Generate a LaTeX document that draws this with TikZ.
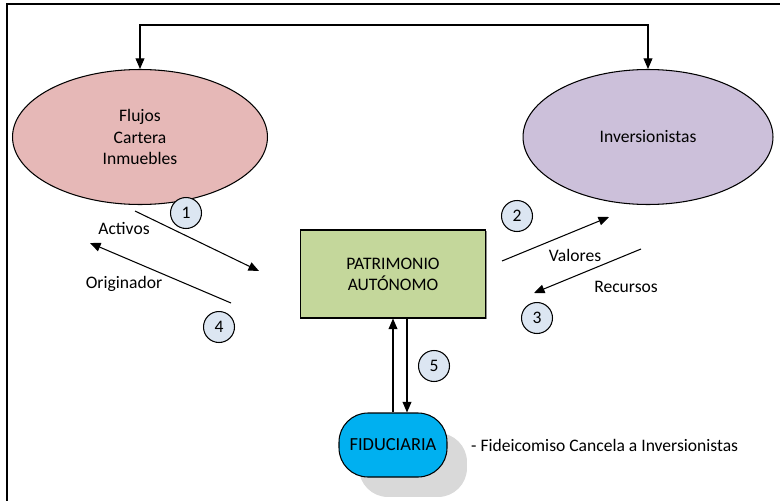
\documentclass[tikz,border=0pt]{standalone}
\usepackage{fontspec}
\setmainfont{Carlito}
\usetikzlibrary{arrows, arrows.meta}
\usetikzlibrary{shapes.geometric}
\usetikzlibrary{shadows}

\definecolor{rosa}{HTML}{E6B8B7}
\definecolor{lila}{HTML}{CCC0DA}
\definecolor{verde}{HTML}{C4D79B}
\definecolor{azul}{HTML}{00B0F0}
\definecolor{paso}{HTML}{DCE6F2}

\begin{document}
\begin{tikzpicture}[x=0.02cm, y=-0.02cm, font=\fontsize{10}{12}\selectfont,
    flecha/.style={draw, line width=0.6pt, -{Triangle[length=6pt, width=5pt]}},
    elipse/.style={ellipse, draw, line width=0.6pt, align=center, inner sep=0pt},
    numero/.style={circle, draw, fill=paso, line width=0.6pt, inner sep=0pt, minimum size=0.62cm}]
      \useasboundingbox (0,0) rectangle (780,500);
      \draw[line width=1.7pt] (7,530) -- (7,4) -- (810,4);

      \node[elipse, fill=rosa, minimum width=5.1cm, minimum height=2.7cm] (flujos) at (140,137) {Flujos\\Cartera\\Inmuebles};
      \node[elipse, fill=lila, minimum width=5.0cm, minimum height=2.7cm] (inv) at (648,137) {Inversionistas};
      \node[draw, fill=verde, line width=0.6pt, align=center, minimum width=3.7cm, minimum height=1.76cm,
            drop shadow={shadow xshift=0.8pt, shadow yshift=-0.8pt, fill=black!45, opacity=1}] (pa) at (393,274) {PATRIMONIO\\AUTÓNOMO};
      \node[draw, fill=azul, line width=0.6pt, minimum width=2.16cm, minimum height=1.28cm, rounded corners=0.58cm,
            drop shadow={shadow xshift=0.4cm, shadow yshift=-0.4cm, fill=black!15, opacity=1}] (fid) at (393,445) {\fontsize{10.5}{12}\selectfont FIDUCIARIA};
      \node[anchor=west] (cancela) at (465,445) {- Fideicomiso Cancela a Inversionistas};

      \coordinate (tope) at (140,25);
      \draw[flecha, {Triangle[length=6pt, width=5pt]}-{Triangle[length=6pt, width=5pt]}] (flujos.north) |- (tope) -| (inv.north);

      % activos y originador
      \coordinate (a1) at (135,211);
      \coordinate (a2) at (259,271);
      \coordinate (o1) at (231,303);
      \coordinate (o2) at (90,243);
      \draw[flecha] (a1) -- (a2);
      \draw[flecha] (o1) -- (o2);
      \node (activos) at (124,228) {Activos};
      \node (originador) at (124,284) {Originador};

      % valores y recursos
      \coordinate (v1) at (502,261);
      \coordinate (v2) at (609,217);
      \coordinate (r1) at (641,249);
      \coordinate (r2) at (534,293);
      \draw[flecha] (v1) -- (v2);
      \draw[flecha] (r1) -- (r2);
      \node (valores) at (575,255) {Valores};
      \node (recursos) at (626,287) {Recursos};

      % fiduciaria
      \coordinate (f1) at (393,413);
      \coordinate (f2) at (407,318);
      \draw[flecha] (f1 |- fid.north) -- (f1 |- pa.south);
      \draw[flecha] (f2 |- pa.south) -- (f2 |- fid.north);

      \node[numero] (n1) at (186,213) {1};
      \node[numero] (n2) at (517,216) {2};
      \node[numero] (n3) at (537,318) {3};
      \node[numero] (n4) at (219,327) {4};
      \node[numero] (n5) at (434,366) {5};
\end{tikzpicture}
\end{document}
